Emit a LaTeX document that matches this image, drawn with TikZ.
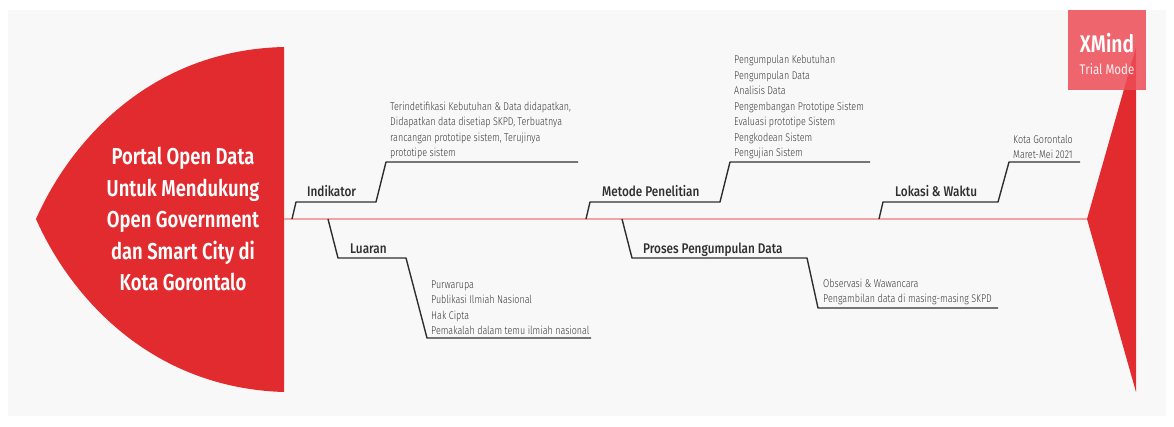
\documentclass[tikz,border=0pt]{standalone}
\usepackage{fontspec}
\setmainfont{Fira Sans}[FakeStretch=0.82]
\newfontfamily\headfont{Fira Sans SemiBold}[FakeStretch=0.80]
\newfontfamily\topicfont{Fira Sans Medium}[FakeStretch=0.84]
\newfontfamily\notefont{Fira Sans Light}[FakeStretch=0.80]
\usetikzlibrary{positioning,calc}
\definecolor{fishred}{HTML}{E22B2F}
\definecolor{spinered}{HTML}{F2A3A3}
\definecolor{ink}{HTML}{2F2F2F}
\definecolor{noteink}{HTML}{383838}
\definecolor{paper}{HTML}{F8F8F8}
\definecolor{markred}{HTML}{EE4C57}
\tikzset{
  bone/.style  ={draw=ink, line width=1.4pt, line join=round},
  spine/.style ={draw=spinered, line width=1.6pt},
  topic/.style ={font=\topicfont\fontsize{14}{16}\selectfont, text=ink, inner sep=0, anchor=base west},
  note/.style  ={font=\notefont\fontsize{11.2}{15.5}\selectfont, text=noteink, inner sep=0, align=left, anchor=south west},
  headtxt/.style={font=\headfont\fontsize{23}{31.5}\selectfont, text=white, align=center, inner sep=0},
}
\begin{document}
\begin{tikzpicture}[x=1pt,y=-1pt]
  \useasboundingbox (0,0) rectangle (1174,426);
  \fill[paper] (8,10) rectangle (1166,416);

  % head and tail of the fish
  \coordinate (htop) at (284,47);
  \coordinate (hbot) at (284,392);
  \coordinate (hnose) at (36,219);
  \coordinate (tpoint) at (1087,219);
  \fill[fishred] (htop) .. controls (150,50) and (70,142) .. (hnose)
       .. controls (70,296) and (150,388) .. (hbot) -- cycle;
  \fill[fishred] (tpoint) -- (1136,47) -- (1136,392) -- cycle;
  \draw[spine] (284,219) -- (tpoint);
  \node[headtxt] (head) at (183,219)
    {Portal Open Data\\Untuk Mendukung\\Open Government\\dan Smart City di\\Kota Gorontalo};

  % Indikator
  \coordinate (ind0) at (292,219);
  \coordinate (ind1) at (296,202);
  \coordinate (ind2) at (376,202);
  \coordinate (ind3) at (386,162);
  \coordinate (ind4) at (578,162);
  \draw[bone] (ind0) -- (ind1) -- (ind2) -- (ind3) -- (ind4);
  \node[topic,xshift=11pt,yshift=6pt] (indt) at (ind1) {Indikator};
  \node[note,xshift=4pt,yshift=3pt] (indn) at (ind3)
    {Terindetifikasi Kebutuhan \& Data didapatkan,\\Didapatkan data disetiap SKPD, Terbuatnya\\rancangan prototipe sistem, Terujinya\\prototipe sistem};

  % Luaran
  \coordinate (lua0) at (328,219);
  \coordinate (lua1) at (338,258);
  \coordinate (lua2) at (406,258);
  \coordinate (lua3) at (427,338);
  \coordinate (lua4) at (591,338);
  \draw[bone] (lua0) -- (lua1) -- (lua2) -- (lua3) -- (lua4);
  \node[topic,xshift=12pt,yshift=5pt] (luat) at (lua1) {Luaran};
  \node[note,xshift=4pt,yshift=3pt] (luan) at (lua3)
    {Purwarupa\\Publikasi Ilmiah Nasional\\Hak Cipta\\Pemakalah dalam temu ilmiah nasional};

  % Metode Penelitian
  \coordinate (met0) at (586,219);
  \coordinate (met1) at (590,202);
  \coordinate (met2) at (720,202);
  \coordinate (met3) at (730,162);
  \coordinate (met4) at (870,162);
  \draw[bone] (met0) -- (met1) -- (met2) -- (met3) -- (met4);
  \node[topic,xshift=12pt,yshift=6pt] (mett) at (met1) {Metode Penelitian};
  \node[note,xshift=4pt,yshift=3pt] (metn) at (met3)
    {Pengumpulan Kebutuhan\\Pengumpulan Data\\Analisis Data\\Pengembangan Prototipe Sistem\\Evaluasi prototipe Sistem\\Pengkodean Sistem\\Pengujian Sistem};

  % Proses Pengumpulan Data
  \coordinate (pro0) at (622,219);
  \coordinate (pro1) at (632,258);
  \coordinate (pro2) at (807,258);
  \coordinate (pro3) at (818,308);
  \coordinate (pro4) at (998,308);
  \draw[bone] (pro0) -- (pro1) -- (pro2) -- (pro3) -- (pro4);
  \node[topic,xshift=11pt,yshift=5pt] (prot) at (pro1) {Proses Pengumpulan Data};
  \node[note,xshift=5pt,yshift=3pt] (pron) at (pro3)
    {Observasi \& Wawancara\\Pengambilan data di masing-masing SKPD};

  % Lokasi & Waktu
  \coordinate (lok0) at (879,219);
  \coordinate (lok1) at (883,202);
  \coordinate (lok2) at (998,202);
  \coordinate (lok3) at (1009,162);
  \coordinate (lok4) at (1080,162);
  \draw[bone] (lok0) -- (lok1) -- (lok2) -- (lok3) -- (lok4);
  \node[topic,xshift=12pt,yshift=6pt] (lokt) at (lok1) {Lokasi \& Waktu};
  \node[note,xshift=4pt,yshift=3pt] (lokn) at (lok3)
    {Kota Gorontalo\\Maret-Mei 2021};

  % trial mark
  \fill[markred,opacity=.85] (1068,10) rectangle (1146,90);
  \node[font=\headfont\fontsize{24}{24}\selectfont,text=white] (xm) at (1107,43) {XMind};
  \node[font=\fontsize{14}{14}\selectfont,text=white,opacity=.9] (tm) at (1107,69) {Trial Mode};
\end{tikzpicture}
\end{document}
